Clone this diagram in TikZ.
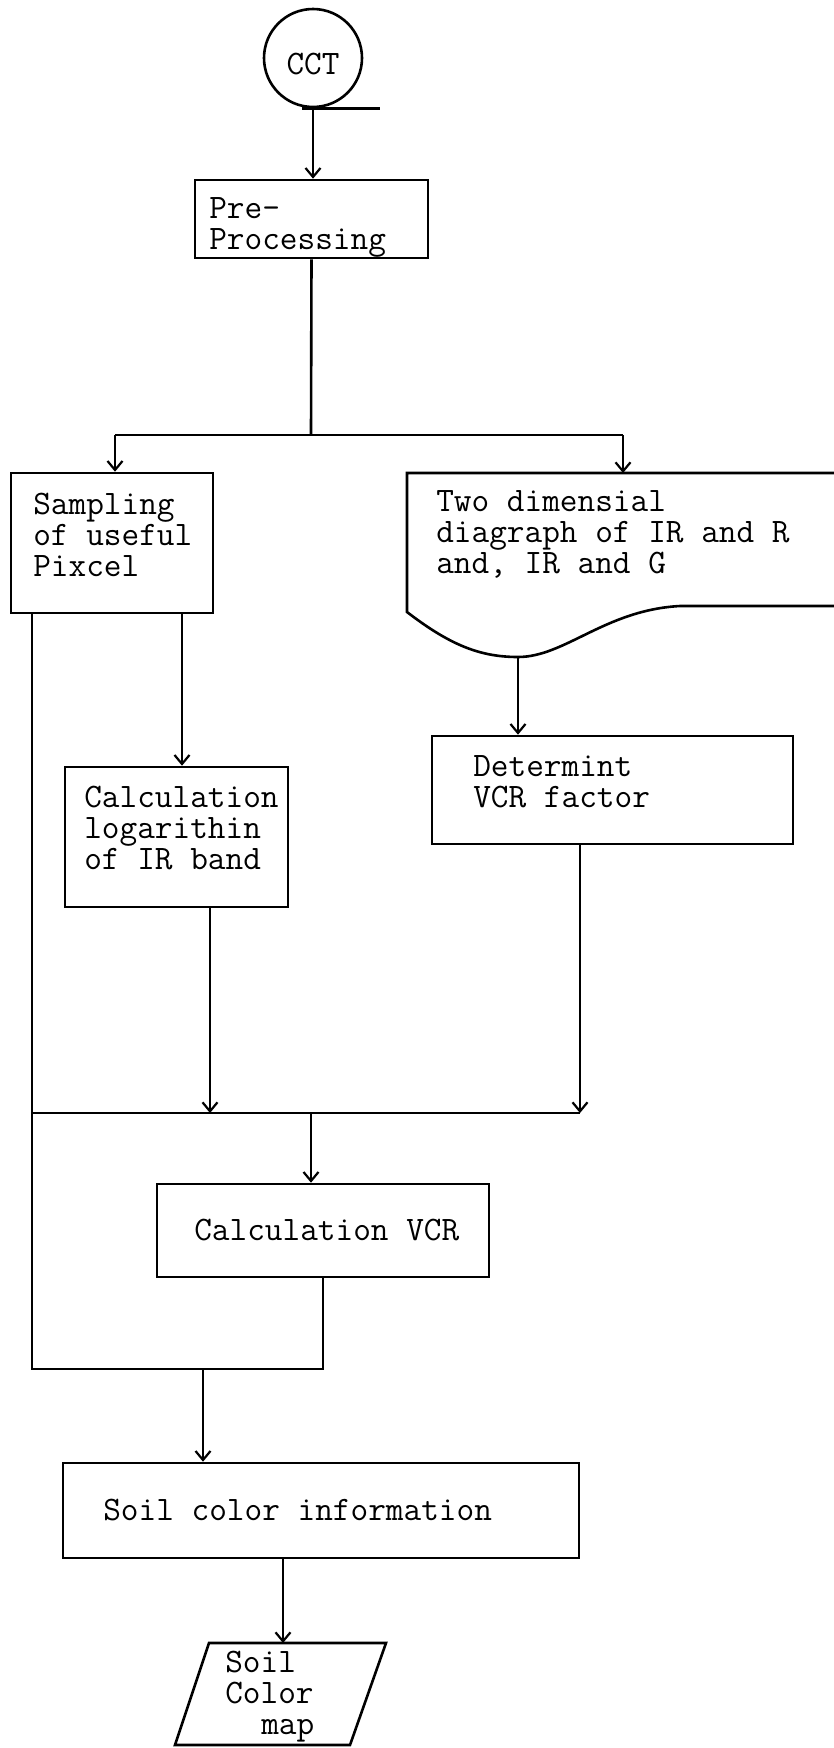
\documentclass[tikz,border=0pt]{standalone}
\usetikzlibrary{arrows.meta}
\newcommand{\flowfont}{\ttfamily\fontsize{34.3}{31}\selectfont}
\begin{document}
\begin{tikzpicture}[x=1pt,y=-1pt,line width=2.6pt,
  box/.style={draw, rectangle, inner sep=0pt},
  txt/.style={font=\flowfont, align=left, inner sep=0pt, anchor=west},
  arr/.style={-{Straight Barb[length=9pt,width=15pt,line width=2.2pt]}}]
\useasboundingbox (0,0) rectangle (833,1748);

% start terminal
\node[draw, circle, minimum size=98pt, inner sep=0pt] (cct) at (313,58) {};
\node[font=\flowfont, inner sep=0pt] (cct-t) at (313,64) {CCT};
\draw ([xshift=-11pt]cct.south) -- ++(78,0);

% process boxes
\node[box, minimum width=233pt, minimum height=78pt]  (pre)  at (311.5,219)  {};
\node[box, minimum width=202pt, minimum height=140pt] (samp) at (112,543)    {};
\node[box, minimum width=223pt, minimum height=140pt] (logc) at (176.5,837)  {};
\node[box, minimum width=361pt, minimum height=108pt] (det)  at (612.5,790)  {};
\node[box, minimum width=332pt, minimum height=93pt]  (vcr)  at (323,1230.5) {};
\node[box, minimum width=516pt, minimum height=95pt]  (soil) at (321,1510.5) {};

% document symbol with wavy lower edge
\draw (840,473) -- (407,473) -- (407,612)
  .. controls (450,645) and (480,657) .. (518,657)
  .. controls (565,657) and (605,610) .. (680,606) -- (840,606);
\coordinate (doctop) at (623,473);
\coordinate (docbot) at (518,657);

% output map (parallelogram)
\coordinate (m1) at (209,1643);
\coordinate (m2) at (386,1643);
\coordinate (m3) at (350,1745);
\coordinate (m4) at (175,1745);
\draw (m1) -- (m2) -- (m3) -- (m4) -- cycle;
\coordinate (maptop) at (283,1643);

% texts
\node[txt] (pre-t)  at (208,227)  {Pre-\\Processing};
\node[txt] (samp-t) at (32,535)   {Sampling\\of useful\\Pixcel};
\node[txt] (logc-t) at (83,828)   {Calculation\\logarithin\\of IR band};
\node[txt] (doc-t)  at (435,534)  {Two dimensial\\diagraph of IR and R\\and, IR and G};
\node[txt] (det-t)  at (472,782)  {Determint\\VCR factor};
\node[txt] (vcr-t)  at (193,1230) {Calculation VCR};
\node[txt] (soil-t) at (102,1510) {Soil color information};
\node[txt] (map-t)  at (224,1697) {Soil\\Color\\\hspace*{36pt}map};

% junctions
\coordinate (jtop) at (311,435);
\coordinate (jl)   at (115,435);
\coordinate (jr)   at (623,435);
\coordinate (mL)   at (32,1113);
\coordinate (mA)   at (210,1113);
\coordinate (mC)   at (311,1113);
\coordinate (mR)   at (580,1113);
\coordinate (bL)   at (32,1369);
\coordinate (bA)   at (203,1369);
\coordinate (sB)   at (182,613);

% connectors
\draw[arr] (cct.south) -- (cct.south |- pre.north);
\draw (pre.south) -- (jtop);
\draw (jl) -- (jr);
\draw[arr] (jl) -- (jl |- samp.north);
\draw[arr] (jr) -- (doctop);
\draw[arr] (docbot) -- (docbot |- det.north);
\draw[arr] (sB) -- (sB |- logc.north);
\draw (samp.south -| bL) -- (bL) -- (vcr.south |- bL) -- (vcr.south);
\draw (mL) -- (mR);
\draw[arr] (logc.south -| mA) -- (mA);
\draw[arr] (det.south -| mR) -- (mR);
\draw[arr] (mC) -- (mC |- vcr.north);
\draw[arr] (bA) -- (bA |- soil.north);
\draw[arr] (soil.south -| maptop) -- (maptop);
\end{tikzpicture}
\end{document}
